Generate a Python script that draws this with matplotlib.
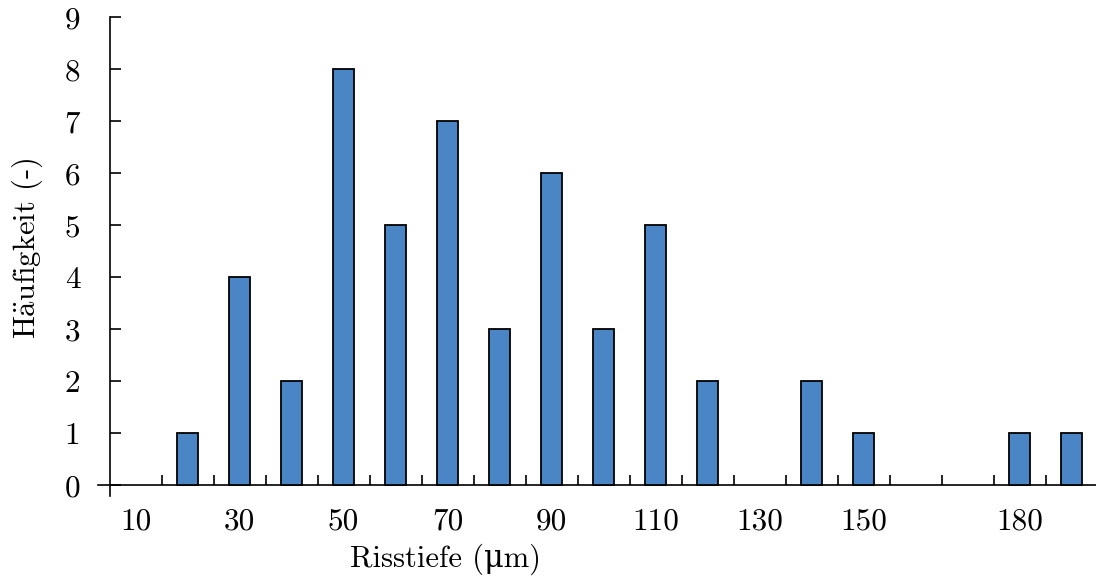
import numpy as np
import matplotlib
matplotlib.use("Agg")
import matplotlib.pyplot as plt
from matplotlib.ticker import FixedLocator, NullFormatter

# Risstiefe-Klassen (µm) und Häufigkeiten
depths = [10, 20, 30, 40, 50, 60, 70, 80, 90, 100, 110, 120, 130, 140, 150, 160, 170, 180, 190]
counts = [0, 1, 4, 2, 8, 5, 7, 3, 6, 3, 5, 2, 0, 2, 1, 0, 0, 1, 1]
labeled = [10, 30, 50, 70, 90, 110, 130, 150, 180]

plt.rcParams['font.family'] = ['cmr10', 'DejaVu Serif']
plt.rcParams['mathtext.fontset'] = 'cm'
plt.rcParams['axes.unicode_minus'] = False

fig = plt.figure(figsize=(10.96, 5.81), dpi=100)
ax = fig.add_axes([0.0894, 0.1463, 0.912, 0.8236])

x = np.arange(len(depths))
lw = [1.3 if c > 0 else 0 for c in counts]
ax.bar(x, counts, width=0.4, color='#4a86c6', edgecolor='black', linewidth=lw, zorder=3)

ax.set_xlim(-0.723, 18.5)
ax.set_ylim(-0.21, 9)

ax.spines['top'].set_visible(False)
ax.spines['right'].set_visible(False)
ax.spines['bottom'].set_position(('data', 0))
ax.spines['left'].set_position(('data', -0.5))
for s in ('bottom', 'left'):
    ax.spines[s].set_linewidth(1.2)

ax.set_yticks(range(0, 10))
ax.tick_params(axis='y', direction='in', length=8, width=1.2, pad=21, labelsize=22.5)

# Beschriftungen an den Klassenmitten, Striche an den Klassengrenzen
ax.set_xticks([depths.index(v) for v in labeled])
ax.set_xticklabels([str(v) for v in labeled])
ax.tick_params(axis='x', which='major', length=0, pad=16, labelsize=22.5)
ax.xaxis.set_minor_locator(FixedLocator(np.arange(0.5, 18, 1.0)))
ax.xaxis.set_minor_formatter(NullFormatter())
ax.tick_params(axis='x', which='minor', direction='in', length=7.2, width=1.2)

fig.text(446 / 1096, 1 - 559 / 581, 'Risstiefe (\u03bcm)', ha='center', va='center', fontsize=22)
fig.text(27 / 1096, 1 - 248 / 581, r'H$\ddot{\rm a}$ufigkeit (-)', rotation=90,
         ha='center', va='center', fontsize=22)

fig.savefig('out.png', dpi=100)
